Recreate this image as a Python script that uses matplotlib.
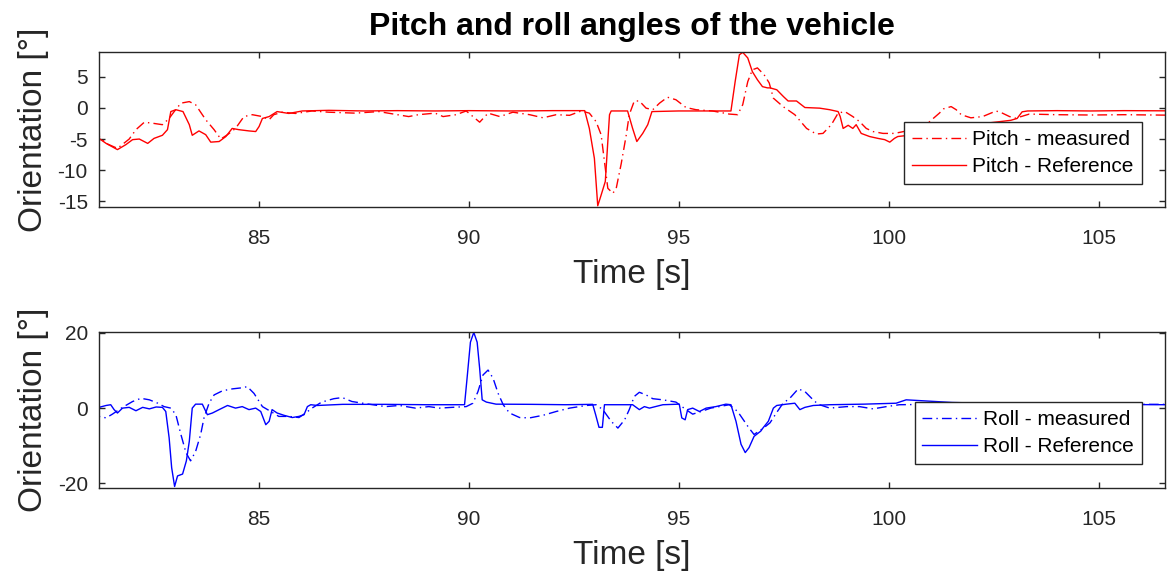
import matplotlib
matplotlib.use("Agg")
import matplotlib.pyplot as plt

plt.rcParams['font.family'] = ['Liberation Sans', 'DejaVu Sans']
plt.rcParams['axes.unicode_minus'] = False

# pitch [deg]
pitch_ref_t = [81.0, 81.2, 81.37, 81.64, 81.84, 82.0, 82.16, 82.36, 82.51, 82.71, 82.83, 82.91,
               83.03, 83.2, 83.35, 83.42, 83.58, 83.74, 83.86, 84.06, 84.22, 84.37, 84.53, 84.77,
               84.93, 85.01, 85.09, 85.25, 85.44, 85.72, 86.04, 86.67, 87.5, 88.3, 89.2, 90.0,
               91.0, 92.0, 92.76, 92.87, 92.99, 93.07, 93.15, 93.25, 93.35, 93.39, 93.78, 93.9,
               94.0, 94.14, 94.26, 94.36, 95.0, 95.6, 96.24, 96.34, 96.44, 96.52, 96.64, 96.75,
               96.87, 96.99, 97.11, 97.17, 97.33, 97.49, 97.6, 97.8, 98.0, 98.35, 98.59, 98.79,
               98.84, 98.91, 99.03, 99.14, 99.22, 99.34, 99.54, 99.74, 99.9, 100.02, 100.13,
               100.21, 100.6, 101.2, 101.8, 102.4, 102.9, 103.05, 103.17, 103.3, 104.0, 104.8,
               105.6, 106.6]
pitch_ref = [-4.6, -4.9, -5.7, -6.7, -5.9, -5.1, -5.0, -5.7, -4.9, -4.4, -3.5, -0.6,
             -0.3, -0.6, -2.7, -4.4, -3.7, -4.3, -5.5, -5.4, -4.6, -3.3, -3.5, -3.7,
             -3.8, -3.0, -1.7, -1.4, -0.6, -0.9, -0.5, -0.4, -0.5, -0.45, -0.5, -0.45,
             -0.5, -0.45, -0.45, -3.3, -8.1, -15.7, -14.0, -11.8, -1.1, -0.5, -0.5, -3.3,
             -5.4, -4.1, -2.7, -0.6, -0.5, -0.5, -0.5, 4.2, 8.5, 8.9, 8.0, 5.8,
             4.5, 3.4, 3.2, 3.2, 2.9, 1.8, 1.1, 1.1, 0.05, -0.05, -0.3, -0.6,
             -1.4, -3.3, -2.8, -3.3, -2.7, -4.1, -4.6, -4.9, -5.1, -5.5, -4.9,
             -4.6, -4.3, -3.6, -3.0, -2.4, -2.0, -1.7, -0.64, -0.5, -0.45, -0.5,
             -0.45, -0.48]

pitch_meas_t = [81.0, 81.2, 81.37, 81.64, 81.92, 82.08, 82.28, 82.51, 82.71, 82.87, 82.99, 83.15,
                83.35, 83.5, 83.74, 83.94, 84.1, 84.26, 84.45, 84.65, 84.85, 85.09, 85.25, 85.36,
                85.56, 85.88, 86.27, 86.67, 87.3, 87.86, 88.57, 88.8, 89.2, 89.39, 89.7, 89.94,
                90.26, 90.46, 90.74, 91.05, 91.45, 91.77, 92.08, 92.4, 92.68, 92.87, 93.03, 93.15,
                93.25, 93.31, 93.43, 93.51, 93.63, 93.75, 93.82, 93.94, 94.06, 94.22, 94.38, 94.54,
                94.73, 94.93, 95.17, 95.41, 95.8, 96.2, 96.4, 96.52, 96.64, 96.75, 96.87, 97.03,
                97.15, 97.25, 97.48, 97.76, 98.04, 98.27, 98.43, 98.63, 98.79, 98.95, 99.14, 99.3,
                99.46, 99.62, 99.86, 100.13, 100.5, 100.9, 101.2, 101.3, 101.48, 101.6, 101.72,
                101.95, 102.23, 102.55, 102.7, 102.87, 103.02, 103.34, 104.0, 104.8, 105.6, 106.6]
pitch_meas = [-4.4, -4.6, -5.7, -6.5, -5.0, -3.5, -2.3, -2.5, -2.7, -1.7, -0.6, 0.75,
              1.0, 0.5, -1.9, -3.5, -5.0, -4.3, -3.3, -1.4, -1.1, -1.4, -1.9, -1.1,
              -0.7, -0.9, -0.5, -0.7, -0.85, -0.6, -1.4, -1.1, -0.85, -1.4, -1.1, -0.5,
              -2.3, -0.85, -1.4, -0.7, -1.1, -1.6, -1.1, -1.2, -0.5, -0.85, -2.2, -4.3,
              -9.7, -12.9, -13.7, -12.9, -8.9, -4.3, -1.1, 1.1, 1.1, -0.05, -0.3, 0.75,
              1.7, 1.3, 0.05, -0.3, -0.5, -1.0, -1.1, 0.5, 4.2, 6.1, 6.4, 5.3,
              4.0, 1.55, 0.2, -1.1, -3.3, -4.2, -4.1, -2.7, -0.85, -0.6, -1.4, -2.2,
              -3.3, -3.8, -4.1, -4.1, -3.6, -2.6, -0.85, -0.16, 0.2, -0.3, -1.1,
              -1.6, -1.4, -0.5, -0.85, -1.4, -1.66, -1.0, -1.1, -1.15, -1.1, -1.17]

# roll [deg]
roll_ref_t = [81.0, 81.2, 81.37, 81.48, 81.56, 81.64, 81.76, 81.92, 82.08, 82.24, 82.4, 82.56,
              82.71, 82.79, 82.87, 82.93, 83.0, 83.07, 83.19, 83.28, 83.35, 83.42, 83.5, 83.66,
              83.78, 83.9, 84.06, 84.26, 84.45, 84.61, 84.77, 84.93, 85.05, 85.17, 85.25, 85.32,
              85.44, 85.6, 85.8, 85.96, 86.08, 86.16, 86.24, 86.4, 87.0, 88.0, 89.0, 89.9,
              89.96, 90.04, 90.12, 90.2, 90.26, 90.32, 90.42, 90.65, 91.5, 92.3, 92.95, 93.02,
              93.1, 93.18, 93.23, 93.6, 93.9, 94.06, 94.18, 94.3, 94.62, 95.01, 95.07, 95.15,
              95.21, 95.33, 95.49, 95.65, 95.88, 96.12, 96.24, 96.36, 96.48, 96.58, 96.67, 96.79,
              96.95, 97.0, 97.13, 97.25, 97.33, 97.56, 97.76, 97.88, 98.0, 98.2, 98.59, 99.4,
              100.17, 100.41, 101.5, 103.0, 104.5, 106.6]
roll_ref = [0.0, 0.2, 0.7, 0.9, -0.4, -1.3, 0.0, 0.2, -0.7, 0.2, -0.2, 0.3,
            0.2, -0.9, -7.9, -15.8, -20.8, -18.0, -17.5, -14.0, -8.8, 0.0, 1.05, 1.05,
            -1.75, -1.3, -0.4, 0.7, 0.0, 0.4, -0.4, 0.0, -0.9, -4.4, -3.5, -0.4,
            -1.3, -1.9, -2.5, -2.2, -1.75, 0.4, 0.9, 0.7, 1.0, 1.0, 0.9, 0.9,
            7.9, 17.5, 20.1, 17.5, 10.5, 2.2, 1.6, 1.05, 1.0, 0.9, 1.0, -1.75,
            -5.1, -5.1, 0.9, 0.9, 0.9, -0.4, 0.4, 0.0, 0.9, 1.05, -2.6, -3.1,
            -0.4, 0.0, -0.9, 0.0, 0.4, 1.05, 0.9, -3.5, -9.6, -11.8, -10.5, -7.5,
            -6.1, -5.3, -3.5, 0.0, 0.7, 1.05, 1.3, -0.4, 0.2, 0.7, 0.9, 1.05,
            1.3, 2.2, 1.5, 1.1, 1.0, 0.9]

roll_meas_t = [81.0, 81.2, 81.37, 81.52, 81.76, 82.0, 82.2, 82.4, 82.6, 82.75, 82.91, 83.03,
               83.15, 83.27, 83.38, 83.5, 83.62, 83.7, 83.82, 83.94, 84.14, 84.37, 84.61, 84.73,
               84.89, 85.09, 85.29, 85.48, 85.72, 85.96, 86.12, 86.27, 86.5, 86.79, 86.99, 87.22,
               87.62, 88.02, 88.35, 88.73, 89.05, 89.3, 89.6, 89.94, 90.1, 90.22, 90.34, 90.46,
               90.58, 90.7, 90.82, 90.97, 91.21, 91.45, 91.77, 92.08, 92.4, 92.8, 93.03, 93.19,
               93.39, 93.55, 93.71, 93.82, 93.94, 94.06, 94.22, 94.38, 94.62, 94.93, 95.17, 95.33,
               95.53, 95.76, 95.96, 96.2, 96.4, 96.56, 96.67, 96.79, 96.91, 97.07, 97.17, 97.32,
               97.48, 97.64, 97.84, 98.0, 98.16, 98.31, 98.59, 99.0, 99.3, 99.62, 99.94, 100.25,
               101.0, 102.5, 104.0, 106.6]
roll_meas = [-2.0, -2.2, -2.6, -1.6, 0.2, 1.75, 2.6, 2.2, 1.3, 0.4, 0.0, -1.75,
             -7.0, -11.8, -14.0, -11.5, -7.0, -2.6, 1.3, 3.5, 4.6, 5.1, 5.4, 5.7,
             3.9, 0.4, -0.9, -2.2, -2.2, -2.5, -1.3, 0.0, 1.6, 2.5, 2.8, 1.75,
             1.05, 0.4, 0.7, 0.0, 0.4, 0.0, 0.2, 0.4, 1.3, 4.4, 8.8, 10.1,
             7.9, 3.9, 0.9, -1.3, -2.5, -2.6, -1.9, -0.9, 0.0, 0.7, 0.9, -0.4,
             -3.5, -5.3, -3.1, -0.4, 3.1, 4.2, 3.5, 2.5, 2.2, 1.6, -0.4, -1.6,
             -0.9, 0.0, 0.4, 0.9, -0.9, -3.5, -5.3, -7.0, -6.1, -4.8, -3.9, -1.3,
             1.3, 2.6, 5.1, 4.4, 2.6, 1.05, 0.0, 0.4, 0.4, -0.2, 0.4, 0.9,
             1.0, 1.1, 1.0, 1.0]

dashdot = (0, (7, 3, 1, 3))
grey = '#262626'

fig = plt.figure(figsize=(11.67, 5.76), dpi=100)
ax1 = fig.add_axes([0.0848, 0.6406, 0.9135, 0.2691])
ax2 = fig.add_axes([0.0848, 0.1528, 0.9135, 0.2708])

ax1.plot(pitch_meas_t, pitch_meas, color='red', lw=1.0, ls=dashdot, label='Pitch - measured')
ax1.plot(pitch_ref_t, pitch_ref, color='red', lw=1.0, ls='-', label='Pitch - Reference')
ax2.plot(roll_meas_t, roll_meas, color='blue', lw=1.0, ls=dashdot, label='Roll - measured')
ax2.plot(roll_ref_t, roll_ref, color='blue', lw=1.0, ls='-', label='Roll - Reference')

ax1.set_ylim(-15.9, 8.95)
ax1.set_yticks([-15, -10, -5, 0, 5])
ax2.set_ylim(-21.2, 20.2)
ax2.set_yticks([-20, 0, 20])

for ax in (ax1, ax2):
    ax.set_xlim(81.2, 106.57)
    ax.set_xticks([85, 90, 95, 100, 105])
    ax.tick_params(direction='in', length=4, width=1, color=grey, labelcolor=grey,
                   labelsize=15, top=True, right=True)
    ax.tick_params(axis='x', pad=16)
    ax.tick_params(axis='y', pad=8)
    for s in ax.spines.values():
        s.set_color(grey)
        s.set_linewidth(1.0)
    ax.set_xlabel('Time [s]', fontsize=24, color=grey, labelpad=8)
    ax.set_ylabel('Orientation [°]', fontsize=24, color=grey, labelpad=6)
    leg = ax.legend(loc='lower right', fontsize=15, fancybox=False, framealpha=1,
                    edgecolor=grey, handlelength=2.6, borderaxespad=0,
                    labelspacing=0.38, borderpad=0.38, handletextpad=0.3)
    leg.get_frame().set_linewidth(1.0)

ax1.get_legend().set_bbox_to_anchor((0.978, 0.148))
ax2.get_legend().set_bbox_to_anchor((0.978, 0.154))

ax1.set_title('Pitch and roll angles of the vehicle', fontsize=23, fontweight='bold', pad=12)

fig.savefig('out.png', dpi=100)
